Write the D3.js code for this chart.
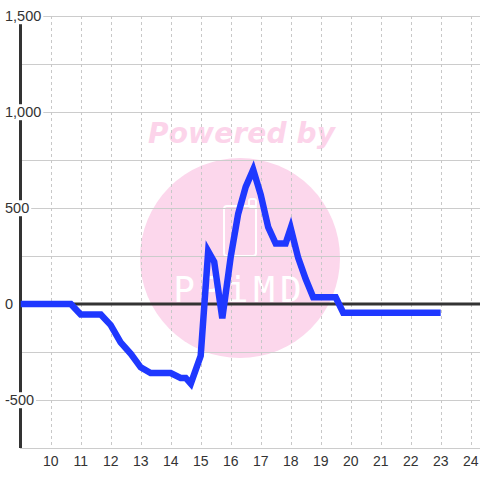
<!DOCTYPE html>
<html>
<head>
<meta charset="utf-8">
<script src="https://cdn.jsdelivr.net/npm/d3@7"></script>
<style>
  html, body { margin: 0; padding: 0; background: #ffffff; }
  svg { display: block; }
</style>
</head>
<body>
<svg id="chart" width="480" height="480"></svg>
<script>
// ---- data ----
const hours  = [9, 10.67, 11, 11.67, 12, 12.33, 12.67, 13, 13.33, 14, 14.33, 14.5, 14.67, 15, 15.25, 15.45, 15.72, 16, 16.25, 16.5, 16.75, 17, 17.25, 17.5, 17.83, 18, 18.25, 18.5, 18.75, 19.5, 19.75, 23];
const values = [0, 0, -55, -55, -110, -200, -260, -330, -360, -360, -385, -385, -415, -270, 275, 220, -75, 245, 470, 610, 700, 570, 400, 315, 315, 395, 240, 130, 35, 35, -45, -45];
const xTicks = [10, 11, 12, 13, 14, 15, 16, 17, 18, 19, 20, 21, 22, 23, 24];
const yLabelTicks = [1500, 1000, 500, 0, -500];
const yGridTicks = [1500, 1250, 1000, 750, 500, 250, -250, -500, -750];

(function () {
const plotL = 20, plotR = 480, plotT = 16, plotB = 448;

const svg = d3.select("#chart");
const x = d3.scaleLinear().domain([9, 24]).range([20.7, 470.7]);
const y = d3.scaleLinear().domain([-750, 1500]).range([plotB, plotT]);

const fmt = v => d3.format(",")(v).replace("\u2212", "-");

// ---- watermark ----
const wm = svg.append("g");
wm.append("circle").attr("cx", 240).attr("cy", 258).attr("r", 100).attr("fill", "#fcd7ec");
wm.append("text")
  .attr("x", 241.5).attr("y", 143)
  .attr("text-anchor", "middle")
  .attr("font-family", "DejaVu Sans")
  .attr("font-weight", "bold").attr("font-style", "italic")
  .attr("font-size", 28)
  .attr("textLength", 187)
  .attr("fill", "#fcd4ea")
  .text("Powered by");
wm.append("rect").attr("x", 224).attr("y", 206).attr("width", 32).attr("height", 50)
  .attr("rx", 3).attr("fill", "none").attr("stroke", "#ffffff").attr("stroke-width", 2);
wm.append("rect").attr("x", 249).attr("y", 199).attr("width", 7).attr("height", 8)
  .attr("rx", 2).attr("fill", "none").attr("stroke", "#ffffff").attr("stroke-width", 2);
wm.append("text")
  .attr("x", 240).attr("y", 302)
  .attr("text-anchor", "middle")
  .attr("font-family", "DejaVu Sans Mono")
  .attr("font-size", 36)
  .attr("letter-spacing", 5)
  .attr("fill", "#ffffff")
  .text("PPiMD");

// ---- grid ----
const grid = svg.append("g");
grid.selectAll("line.h").data(yGridTicks).join("line").attr("class", "h")
  .attr("x1", plotL).attr("x2", plotR)
  .attr("y1", d => Math.round(y(d)) + 0.5).attr("y2", d => Math.round(y(d)) + 0.5)
  .attr("stroke", "#cccccc").attr("stroke-width", 1);
grid.selectAll("line.v").data(xTicks).join("line").attr("class", "v")
  .attr("x1", d => Math.round(x(d)) + 0.5).attr("x2", d => Math.round(x(d)) + 0.5)
  .attr("y1", plotT).attr("y2", plotB)
  .attr("stroke", "#c8c8c8").attr("stroke-width", 1).attr("stroke-dasharray", "3,3");

// ---- axis lines ----
svg.append("line").attr("x1", plotL + 0.5).attr("x2", plotL + 0.5).attr("y1", plotT).attr("y2", plotB)
  .attr("stroke", "#333333").attr("stroke-width", 3);
svg.append("line").attr("x1", plotL).attr("x2", plotR).attr("y1", y(0)).attr("y2", y(0))
  .attr("stroke", "#333333").attr("stroke-width", 3);

// ---- data line ----
const pts = hours.map((h, i) => [h, values[i]]);
svg.append("path")
  .datum(pts)
  .attr("d", d3.line().x(d => x(d[0])).y(d => y(d[1])))
  .attr("fill", "none")
  .attr("stroke", "#1f38ff")
  .attr("stroke-width", 6.5)
  .attr("stroke-linejoin", "miter");

// ---- y labels with white boxes ----
const yl = svg.append("g");
yLabelTicks.forEach(v => {
  const g = yl.append("g");
  const t = g.append("text")
    .attr("x", 5).attr("y", y(v))
    .attr("dy", "0.36em")
    .attr("font-family", "Liberation Sans, Arial, sans-serif")
    .attr("font-size", 14.5)
    .attr("fill", "#333333")
    .text(fmt(v));
  const b = t.node().getBBox();
  g.insert("rect", "text")
    .attr("x", b.x - 2).attr("y", b.y)
    .attr("width", b.width + 4).attr("height", b.height)
    .attr("fill", "#ffffff");
});

// ---- x labels ----
svg.append("g").selectAll("text").data(xTicks).join("text")
  .attr("x", d => x(d)).attr("y", 466)
  .attr("text-anchor", "middle")
  .attr("font-family", "Liberation Sans, Arial, sans-serif")
  .attr("font-size", 14)
  .attr("fill", "#333333")
  .text(d => d);
})();
</script>
</body>
</html>
